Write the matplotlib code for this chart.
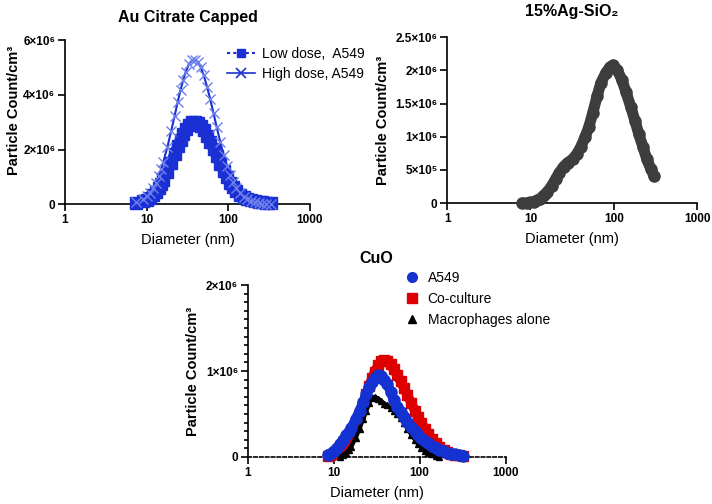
import matplotlib
matplotlib.use("Agg")
import matplotlib.pyplot as plt
from matplotlib.lines import Line2D
from matplotlib.ticker import MultipleLocator

plt.rcParams['font.family'] = ['Liberation Sans', 'DejaVu Sans']

# ---- Au citrate capped (values in 1e6 particles/cm3) ----
au_diam = [7.5, 9, 10, 11, 12, 13, 14, 15, 16, 18, 20, 22, 24, 26, 28, 30, 33, 36,
           39, 42, 46, 50, 55, 60, 66, 72, 80, 88, 96, 105, 115, 126, 140, 155,
           170, 190, 210, 235, 260, 290, 335]
au_low = [0.04, 0.10, 0.16, 0.24, 0.33, 0.45, 0.58, 0.72, 0.87, 1.19, 1.52, 1.83,
          2.12, 2.36, 2.57, 2.74, 2.90, 2.99, 3.00, 2.96, 2.86, 2.72, 2.51, 2.29,
          2.02, 1.76, 1.46, 1.20, 0.98, 0.79, 0.62, 0.48, 0.35, 0.26, 0.20, 0.15,
          0.11, 0.08, 0.06, 0.04, 0.03]
au_high = [0.07, 0.17, 0.28, 0.42, 0.59, 0.79, 1.02, 1.27, 1.54, 2.11, 2.68, 3.23,
           3.74, 4.18, 4.54, 4.83, 5.13, 5.27, 5.29, 5.22, 5.01, 4.72, 4.29, 3.85,
           3.32, 2.83, 2.26, 1.79, 1.41, 1.08, 0.80, 0.58, 0.39, 0.25, 0.17, 0.10,
           0.06, 0.03, 0.02, 0.01, 0.00]

# ---- 15% Ag-SiO2 ----
ag_diam = [8, 9, 10, 11, 12, 13, 14, 15, 16, 18, 20, 22, 25, 28, 32, 36, 40, 45,
           50, 56, 63, 70, 80, 90, 98, 110, 125, 140, 160, 180, 200, 225, 250,
           280, 305]
ag_vals = [0.0, 0.0, 0.01, 0.02, 0.04, 0.06, 0.10, 0.13, 0.17, 0.26, 0.36, 0.45,
           0.55, 0.61, 0.66, 0.74, 0.84, 0.99, 1.14, 1.36, 1.61, 1.81, 1.96, 2.05,
           2.08, 2.01, 1.86, 1.68, 1.45, 1.24, 1.04, 0.84, 0.66, 0.51, 0.41]

# ---- CuO ----
cuo_diam = [8.5, 9, 10, 11, 12, 13, 14, 15, 16, 18, 20, 22, 24, 26, 28, 30, 33, 36,
            39, 42, 46, 50, 55, 60, 66, 72, 80, 88, 96, 105, 115, 126, 140, 155,
            170, 190, 210, 235, 260, 290, 320]
cuo_a549 = [0.02, 0.03, 0.07, 0.11, 0.15, 0.20, 0.25, 0.29, 0.34, 0.44, 0.54, 0.64,
            0.73, 0.81, 0.87, 0.92, 0.95, 0.94, 0.90, 0.85, 0.76, 0.66, 0.58, 0.52,
            0.46, 0.41, 0.35, 0.30, 0.26, 0.22, 0.19, 0.16, 0.13, 0.10, 0.08, 0.065,
            0.05, 0.04, 0.03, 0.02, 0.015]
cuo_cocult = [0.01, 0.02, 0.04, 0.07, 0.10, 0.14, 0.19, 0.24, 0.29, 0.40, 0.51, 0.62,
              0.73, 0.83, 0.92, 0.99, 1.07, 1.12, 1.13, 1.12, 1.08, 1.02, 0.95, 0.88,
              0.80, 0.72, 0.63, 0.54, 0.46, 0.40, 0.33, 0.27, 0.21, 0.16, 0.12, 0.085,
              0.06, 0.04, 0.028, 0.018, 0.01]
macro_diam = [12, 13, 14, 15, 16, 18, 20, 22, 24, 26, 28, 30, 33, 36, 39, 42, 46, 50,
              55, 60, 66, 72, 80, 88, 96, 105, 115, 126, 140, 155, 170]
cuo_macro = [0.00, 0.02, 0.05, 0.08, 0.12, 0.22, 0.33, 0.44, 0.54, 0.63, 0.69, 0.70,
             0.68, 0.65, 0.62, 0.60, 0.57, 0.54, 0.50, 0.45, 0.39, 0.33, 0.26, 0.20,
             0.15, 0.11, 0.07, 0.05, 0.03, 0.015, 0.0]

x_ticks = [1, 10, 100, 1000]


def scaled(vals):
    return [v * 1e6 for v in vals]


def style_axes(ax, title, ymax, yticks, ylabels, title_pad):
    ax.set_xscale('log')
    ax.set_xlim(1, 1000)
    ax.set_ylim(0, ymax)
    for s in ['top', 'right']:
        ax.spines[s].set_visible(False)
    for s in ['left', 'bottom']:
        ax.spines[s].set_linewidth(1.2)
    ax.set_xticks(x_ticks)
    ax.set_xticklabels([str(t) for t in x_ticks])
    ax.xaxis.set_minor_locator(plt.NullLocator())
    ax.set_yticks(yticks)
    ax.set_yticklabels(ylabels)
    ax.tick_params(which='major', direction='out', length=5, width=1.2,
                   labelsize=8.5, pad=2)
    for lab in ax.get_xticklabels() + ax.get_yticklabels():
        lab.set_fontweight('bold')
    ax.set_xlabel('Diameter (nm)', fontsize=10.5, labelpad=5)
    ax.set_ylabel('Particle Count/cm³', fontsize=10.5, fontweight='bold', labelpad=4)
    ax.set_title(title, fontsize=11.5, fontweight='bold', pad=title_pad)


fig = plt.figure(figsize=(7.12, 5.04), dpi=100)

# Au
ax1 = fig.add_axes([0.0913, 0.595, 0.344, 0.325])
au_blue = '#1a30d4'
ax1.plot(au_diam, scaled(au_low), color=au_blue, lw=8, marker='s', ms=8,
         solid_capstyle='round', clip_on=False, zorder=3)
ax1.plot(au_diam, scaled(au_high), color=au_blue, lw=1.5, marker='x', ms=7,
         mew=1, mec='#6d80ea', clip_on=False, zorder=4)
style_axes(ax1, 'Au Citrate Capped', 6e6, [0, 2e6, 4e6, 6e6],
           ['0', '2×10⁶', '4×10⁶', '6×10⁶'], 13)
ax1.yaxis.set_label_coords(-0.18, 0.57)
h_low = Line2D([], [], color=au_blue, ls=(0, (1.5, 1.5)), lw=1.5, marker='s', ms=6)
h_high = Line2D([], [], color=au_blue, ls='-', lw=1.2, marker='x', ms=7, mew=1.2)
ax1.legend([h_low, h_high], ['Low dose,  A549', 'High dose, A549'],
           loc='upper left', bbox_to_anchor=(220 / 712, 1 - 40 / 504),
           bbox_transform=fig.transFigure, frameon=False, fontsize=10,
           handlelength=2.0, handletextpad=0.5, borderpad=0, labelspacing=0.45)

# Ag-SiO2
ax2 = fig.add_axes([0.628, 0.597, 0.351, 0.329])
ax2.plot(ag_diam, scaled(ag_vals), color='#3d3d3d', lw=8, marker='o', ms=8,
         solid_capstyle='round', clip_on=False, zorder=3)
style_axes(ax2, '15%Ag-SiO₂', 2.5e6, [0, 5e5, 1e6, 1.5e6, 2e6, 2.5e6],
           ['0', '5×10⁵', '1×10⁶', '1.5×10⁶', '2×10⁶', '2.5×10⁶'], 15)

# CuO
ax3 = fig.add_axes([0.348, 0.0933, 0.362, 0.341])
red = '#dd0000'
blue = '#1432d2'
ax3.plot(cuo_diam, scaled(cuo_cocult), color=red, lw=7, marker='s', ms=7,
         solid_capstyle='round', clip_on=False, zorder=3)
ax3.plot(macro_diam, scaled(cuo_macro), color='black', lw=3, marker='^', ms=4,
         clip_on=False, zorder=4)
ax3.plot(cuo_diam, scaled(cuo_a549), color=blue, lw=7, marker='o', ms=8,
         solid_capstyle='round', clip_on=False, zorder=5)
style_axes(ax3, 'CuO', 2e6, [0, 1e6, 2e6], ['0', '1×10⁶', '2×10⁶'], 16)
ax3.yaxis.set_minor_locator(MultipleLocator(1e5))
ax3.tick_params(which='minor', axis='y', direction='out', length=3, width=1.2)
ax3.spines['bottom'].set_linestyle((0, (2, 1.5)))
hc = [Line2D([], [], ls='none', marker='o', ms=7, color=blue),
      Line2D([], [], ls='none', marker='s', ms=7, color=red),
      Line2D([], [], ls='none', marker='^', ms=6, color='black')]
ax3.legend(hc, ['A549', 'Co-culture', 'Macrophages alone'],
           loc='upper left', bbox_to_anchor=(397 / 712, 1 - 264 / 504),
           bbox_transform=fig.transFigure, frameon=False, fontsize=10,
           handlelength=1.2, handletextpad=0.5, borderpad=0, labelspacing=0.5)

fig.savefig('out.png', dpi=100)
